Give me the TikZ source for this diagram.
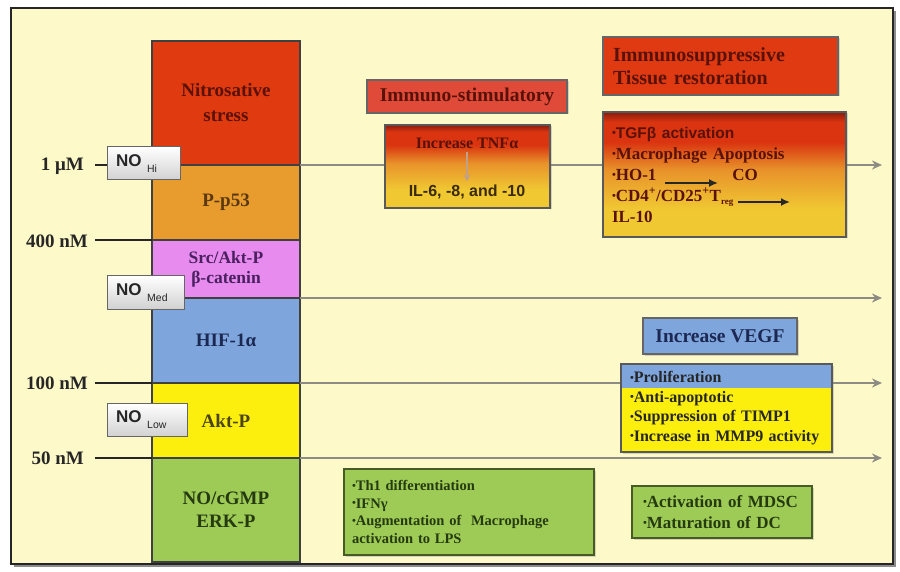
\documentclass[tikz,border=0pt]{standalone}
\usepackage{fontspec}
\setmainfont{Liberation Serif}
\newfontfamily\sansfnt{Liberation Sans}
\usetikzlibrary{arrows.meta, shadows}

\definecolor{paper}{HTML}{FEF9C8}
\definecolor{nitrored}{HTML}{DF3A10}
\definecolor{p53ora}{HTML}{E89C2E}
\definecolor{srcpink}{HTML}{E78CEE}
\definecolor{hifblue}{HTML}{7EA6DD}
\definecolor{aktyel}{HTML}{FCEF0E}
\definecolor{cgmpgreen}{HTML}{9DCB56}
\definecolor{stimred}{HTML}{E04A38}
\definecolor{suppred}{HTML}{DF3A12}
\definecolor{redtext}{HTML}{5A1208}
\definecolor{p53text}{HTML}{5A3810}
\definecolor{srctext}{HTML}{4A2060}
\definecolor{hiftext}{HTML}{1C2852}
\definecolor{akttext}{HTML}{4A4410}
\definecolor{greentext}{HTML}{263A10}
\definecolor{il6text}{HTML}{3A2A08}
\definecolor{levelgray}{HTML}{8C8C84}
\definecolor{tnfgray}{HTML}{C0A088}
\definecolor{fireyel}{HTML}{F0C832}
\definecolor{fireora}{HTML}{E8922A}
\definecolor{firered}{HTML}{DA3410}
\definecolor{firedark}{HTML}{8A1C0C}

\pgfdeclareverticalshading{fire}{100bp}{color(0bp)=(fireyel); color(25bp)=(fireyel);
  color(36bp)=(fireyel); color(52bp)=(fireora); color(63bp)=(firered);
  color(71bp)=(firered); color(75bp)=(firedark); color(100bp)=(firedark)}

\newcommand{\fsz}[2]{\fontsize{#1pt}{#2pt}\selectfont\bfseries}
\newcommand{\bul}{\raisebox{1.5pt}{\fontsize{11pt}{11pt}\selectfont•}}

\begin{document}
\begin{tikzpicture}[x=1pt, y=-1pt, >=Stealth,
  block/.style={draw=black!75, line width=1.2pt, minimum width=148pt, anchor=north,
    outer sep=0pt, align=center, font=\fsz{19}{25}},
  conc/.style={anchor=east, inner sep=0pt, text=black!85, font=\fsz{19}{22}},
  tick/.style={line width=2.5pt, black!85},
  level/.style={line width=2.2pt, levelgray, -{Stealth[length=10pt, width=9pt]}},
  nobox/.style={draw=black!60, line width=1pt, top color=white, bottom color=black!18,
    text width=#1, align=left, inner xsep=9pt, minimum height=33pt,
    font=\sansfnt\fsz{17}{19}, text=black!85},
  redbox/.style={draw=black!60, line width=1.2pt, text=redtext, font=\fsz{19.5}{23},
    drop shadow={shadow xshift=1.5pt, shadow yshift=-1.5pt, opacity=.3}},
  firebox/.style={draw=black!65, line width=1.2pt, shading=fire, text=redtext,
    drop shadow={shadow xshift=1.5pt, shadow yshift=-1.5pt, opacity=.3}},
  textbox/.style={draw=black!65, line width=1.2pt, align=left, text=black!85,
    drop shadow={shadow xshift=1.5pt, shadow yshift=-1.5pt, opacity=.3}},
  greenbox/.style={textbox, fill=cgmpgreen, draw=black!55!cgmpgreen, text=greentext}]

% page and frame
\useasboundingbox (0,0) rectangle (900,572);
\fill[white] (0,0) rectangle (900,572);
\fill[black!45] (14,11) rectangle (896,567);
\draw[line width=2.5pt, draw=black!85, fill=paper] (11,8) rectangle (893,564);

% --- NO column ---
\node[block, fill=nitrored, text=redtext, minimum height=124pt] (nitro) at (226,41) {Nitrosative\\stress};
\node[block, fill=p53ora, text=p53text, minimum height=75pt] (pp53) at (nitro.south) {P-p53};
\node[block, fill=srcpink, text=srctext, minimum height=58pt, font=\fsz{17.5}{20}] (src) at (pp53.south) {Src/Akt-P\\β-catenin};
\node[block, fill=hifblue, text=hiftext, minimum height=85pt] (hif) at (src.south) {HIF-1α};
\node[block, fill=aktyel, text=akttext, minimum height=75pt] (akt) at (hif.south) {Akt-P};
\node[block, fill=cgmpgreen, text=greentext, minimum height=104pt, font=\fsz{19}{23}] (cgmp) at (akt.south) {NO/cGMP\\ERK-P};

% --- concentrations ---
\node[conc] (c1) at (84,166) {1 μM};
\node[conc] (c400) at (88,241) {400 nM};
\node[conc] (c100) at (88,383) {100 nM};
\node[conc] (c50) at (84,458) {50 nM};
\draw[tick] ([xshift=11pt]c1.east |- nitro.south west) -- (nitro.south west);
\draw[tick] ([xshift=7pt]c400.east |- src.north west) -- (src.north west);
\draw[tick] ([xshift=7pt]c100.east |- akt.north west) -- (akt.north west);
\draw[tick] ([xshift=11pt]c50.east |- cgmp.north west) -- (cgmp.north west);

% --- level arrows ---
\coordinate (hiEnd) at (882,165);
\coordinate (medEnd) at (882,298);
\coordinate (lowEnd) at (882,383);
\coordinate (baseEnd) at (882,458);
\draw[level] (nitro.south east) -- (hiEnd);
\draw[level] (src.south east) -- (medEnd);
\draw[level] (hif.south east) -- (lowEnd);
\draw[level] (akt.south east) -- (baseEnd);

% --- NO levels ---
\node[nobox=55pt] (nohi) at (143.5,163.5) {NO \raisebox{-6pt}{\fontsize{10.5pt}{10pt}\selectfont\mdseries Hi}};
\node[nobox=59pt] (nomed) at (145.5,292.5) {NO \raisebox{-6pt}{\fontsize{10.5pt}{10pt}\selectfont\mdseries Med}};
\node[nobox=62pt] (nolow) at (147,420) {NO \raisebox{-6pt}{\fontsize{10.5pt}{10pt}\selectfont\mdseries Low}};

% --- high NO ---
\node[redbox, fill=stimred, minimum width=200pt, minimum height=33pt] (stim) at (467,96.5) {Immuno-stimulatory};
\node[firebox, minimum width=165pt, minimum height=83pt] (tnfbox) at (467.5,166.5) {};
\node[text=redtext, font=\fsz{16}{18}] (tnf) at (467,143) {Increase TNFα};
\node[text=il6text, font=\sansfnt\fsz{16}{18}] (il6) at (467,192) {IL-6, -8, and -10};
\draw[line width=1.2pt, tnfgray, -{Stealth[length=7pt, width=7pt]}] (tnf) -- (il6);

\node[redbox, fill=suppred, minimum height=58pt, text width=215pt, inner xsep=10pt, align=left, font=\fsz{20}{23}] (supp) at (720.5,66) {Immunosuppressive\\Tissue restoration};
\node[firebox, text width=225pt, inner xsep=9pt, minimum height=125pt, align=left, font=\fsz{17}{21}] (tissue) at (724.5,174.5)
  {{\sansfnt\fontsize{15.5pt}{21pt}\selectfont\bul TGFβ activation}\\
   \bul Macrophage Apoptosis\\
   \bul HO-1\hspace{76pt}CO\\
   \bul CD4\textsuperscript{+}/CD25\textsuperscript{+}T\raisebox{-3pt}{\fontsize{9pt}{9pt}\selectfont reg}\\
   IL-10};
\coordinate (hoA) at (665,183);
\coordinate (hoB) at (718,183);
\coordinate (tregA) at (738,202);
\coordinate (tregB) at (790,202);
\draw[line width=2pt, -{Latex[length=9pt, width=8pt]}, black!85] (hoA) -- (hoB);
\draw[line width=2pt, -{Latex[length=9pt, width=8pt]}, black!85] (tregA) -- (tregB);

% --- medium / low NO ---
\node[redbox, fill=hifblue, text=hiftext, minimum width=154pt, minimum height=36pt] (vegf) at (720,336) {Increase VEGF};
\node[textbox, fill=aktyel, text width=193pt, inner xsep=9pt, minimum height=88pt, font=\fsz{16}{19.5},
  path picture={\fill[hifblue] (path picture bounding box.north west) rectangle ([yshift=-24pt]path picture bounding box.north east);}]
  (prolif) at (726.5,408)
  {\bul Proliferation\\ \bul Anti-apoptotic\\ \bul Suppression of TIMP1\\ \bul Increase in MMP9 activity};

% --- lowest NO ---
\node[greenbox, text width=234pt, inner xsep=8pt, minimum height=86pt, font=\fsz{14.5}{17.5}] (th1) at (469,512)
  {\bul Th1 differentiation\\ \bul IFNγ\\ \bul Augmentation of~ Macrophage\\ activation to LPS};
\node[greenbox, text width=158pt, inner xsep=11pt, minimum height=52pt, font=\fsz{17}{21}] (mdsc) at (722,512)
  {\bul Activation of MDSC\\ \bul Maturation of DC};

\end{tikzpicture}
\end{document}
